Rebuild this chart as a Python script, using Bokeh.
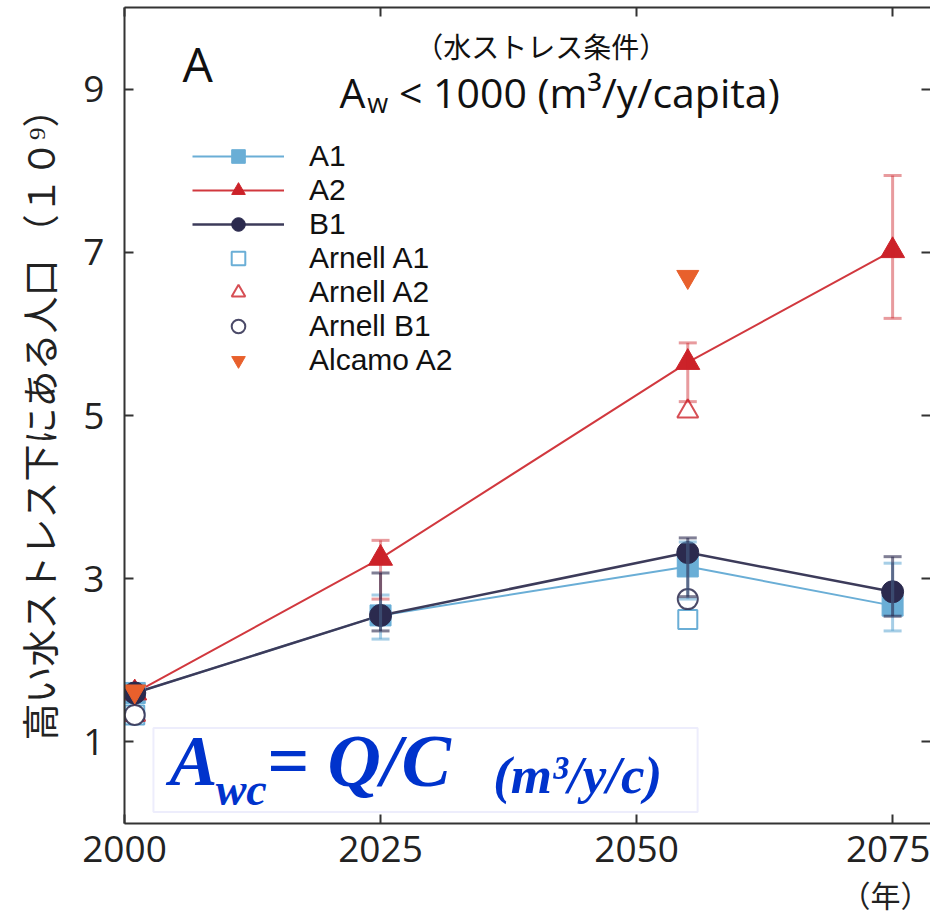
from bokeh.plotting import figure
from bokeh.models import (Range1d, LinearAxis, FixedTicker, Whisker, TeeHead, ColumnDataSource,
                          Legend, LegendItem, Label, BoxAnnotation, Title)
from bokeh.embed import file_html
from bokeh.resources import INLINE

# ---------------- data ----------------
years = [2001, 2025, 2055, 2075]
a1 = [1.6, 2.55, 3.15, 2.67]
a2 = [1.6, 3.25, 5.65, 7.02]
b1 = [1.6, 2.55, 3.32, 2.84]

err_years = [2025, 2055, 2075]
a1_lo = [2.26, 2.75, 2.36]
a1_hi = [2.80, 3.45, 3.19]
a2_lo = [2.75, 5.17, 6.19]
a2_hi = [3.47, 5.89, 7.94]
b1_lo = [2.36, 2.78, 2.54]
b1_hi = [3.07, 3.50, 3.27]

arnell_years = [2001, 2055]
arnell_a1 = [1.33, 2.50]
arnell_a2 = [1.33, 5.05]
arnell_b1 = [1.33, 2.75]

alcamo_years = [2001, 2055]
alcamo_a2 = [1.62, 6.70]

x_ticks = [2000, 2025, 2050, 2075]
y_ticks = [1, 3, 5, 7, 9]

C_A1 = "#6aaed6"
C_A2 = "#cc2229"
C_B1 = "#2b2a4e"
C_AL = "#e8602c"

JP = "Noto Sans CJK JP"
LAT = "Open Sans"

p = figure(width=930, height=922, output_backend="svg", toolbar_location=None,
           x_range=Range1d(2000, 2078.7), y_range=Range1d(0, 10),
           min_border_left=124, min_border_right=0, min_border_top=7, min_border_bottom=99,
           background_fill_color="white", border_fill_color="white")
p.outline_line_color = None
p.grid.visible = False

for ax in (p.xaxis[0], p.yaxis[0]):
    ax.major_tick_in = 9
    ax.major_tick_out = 0
    ax.minor_tick_line_color = None
    ax.axis_line_width = 2
    ax.axis_line_color = "#333333"
    ax.major_tick_line_width = 2
    ax.major_tick_line_color = "#333333"
    ax.major_label_text_font = LAT
    ax.major_label_text_font_size = "37px"
    ax.major_label_text_color = "#222222"

p.xaxis[0].ticker = FixedTicker(ticks=x_ticks)
p.yaxis[0].ticker = FixedTicker(ticks=y_ticks)
p.xaxis[0].major_label_standoff = 12
p.yaxis[0].major_label_standoff = 20
p.yaxis[0].axis_label = "高い水ストレス下にある人口 （１０⁹）"
p.yaxis[0].axis_label_text_font = JP
p.yaxis[0].axis_label_text_font_size = "37px"
p.yaxis[0].axis_label_text_font_style = "normal"
p.yaxis[0].axis_label_text_color = "#222222"
p.yaxis[0].axis_label_standoff = 14

top_ax = LinearAxis(ticker=FixedTicker(ticks=x_ticks), major_label_text_font_size="0px",
                    major_tick_in=9, major_tick_out=0, minor_tick_line_color=None,
                    axis_line_width=2, axis_line_color="#333333",
                    major_tick_line_width=2, major_tick_line_color="#333333")
p.add_layout(top_ax, "above")
right_ax = LinearAxis(ticker=FixedTicker(ticks=y_ticks), major_label_text_font_size="0px",
                      major_tick_in=9, major_tick_out=0, minor_tick_line_color=None,
                      axis_line_color=None,
                      major_tick_line_width=2, major_tick_line_color="#333333")
p.add_layout(right_ax, "right")

# ---------------- year unit (below the x axis) ----------------
p.add_layout(Title(text="（年）", align="right", text_font=JP, text_font_size="30px",
                   text_font_style="normal", text_color="#222222", standoff=10, offset=0),
             "below")

# ---------------- Arnell (open) ----------------
r_arn_a1 = p.scatter(arnell_years, arnell_a1, marker="square", size=19, fill_color="white",
                     line_color=C_A1, line_width=2)
r_arn_a2 = p.scatter(arnell_years, arnell_a2, marker="triangle", size=21, fill_color="white",
                     line_color=C_A2, line_width=2, line_alpha=0.8)
r_arn_b1 = p.scatter(arnell_years, arnell_b1, marker="circle", size=20, fill_color="white",
                     line_color=C_B1, line_width=2, line_alpha=0.85)

# ---------------- lines ----------------
l_a1 = p.line(years, a1, line_color=C_A1, line_width=2)
l_a2 = p.line(years, a2, line_color=C_A2, line_width=2, line_alpha=0.9)
l_b1 = p.line(years, b1, line_color="#3c3b5a", line_width=2.5)

# ---------------- error bars ----------------
def add_err(lo, hi, color, alpha):
    src = ColumnDataSource(dict(x=err_years, lo=lo, hi=hi))
    w = Whisker(base="x", lower="lo", upper="hi", source=src, line_color=color,
                line_width=3, line_alpha=alpha, level="glyph",
                upper_head=TeeHead(size=18, line_color=color, line_width=3, line_alpha=alpha),
                lower_head=TeeHead(size=18, line_color=color, line_width=3, line_alpha=alpha))
    p.add_layout(w)

add_err(a1_lo, a1_hi, C_A1, 0.6)
add_err(a2_lo, a2_hi, C_A2, 0.45)
add_err(b1_lo, b1_hi, C_B1, 0.6)

# ---------------- main markers ----------------
m_a1 = p.scatter(years, a1, marker="square", size=21, fill_color=C_A1, line_color=C_A1)
m_a2 = p.scatter(years, a2, marker="triangle", size=24, fill_color=C_A2, line_color=C_A2)
m_b1 = p.scatter(years, b1, marker="circle", size=22, fill_color=C_B1, line_color=C_B1)
r_alc = p.scatter(alcamo_years, alcamo_a2, marker="inverted_triangle", size=22,
                  fill_color=C_AL, line_color=C_AL)

# ---------------- legend ----------------
legend = Legend(items=[
    LegendItem(label="A1", renderers=[l_a1, m_a1]),
    LegendItem(label="A2", renderers=[l_a2, m_a2]),
    LegendItem(label="B1", renderers=[l_b1, m_b1]),
    LegendItem(label="Arnell A1", renderers=[r_arn_a1]),
    LegendItem(label="Arnell A2", renderers=[r_arn_a2]),
    LegendItem(label="Arnell B1", renderers=[r_arn_b1]),
    LegendItem(label="Alcamo A2", renderers=[r_alc]),
], location=(68, 446), padding=0, spacing=0, label_height=34, glyph_height=34,
    glyph_width=92, label_standoff=25, border_line_color=None, background_fill_alpha=0,
    label_text_font="Liberation Sans", label_text_font_size="30px", label_text_color="#111111",
    margin=0)
p.add_layout(legend, "center")

# ---------------- title texts ----------------
p.add_layout(Label(x=2005.66, y=9.31, text="A", text_font=LAT, text_font_size="48px",
                   text_color="#111111", text_baseline="alphabetic"))
p.add_layout(Label(x=2040.7, y=9.53, text="（水ストレス条件）", text_font=JP,
                   text_font_size="28px", text_color="#111111", text_align="center",
                   text_baseline="alphabetic"))
p.add_layout(Label(x=2021.0, y=8.96, text="A", text_font=LAT, text_font_size="41px",
                   text_color="#111111", text_baseline="alphabetic"))
p.add_layout(Label(x=2023.7, y=8.83, text="w", text_font=LAT, text_font_size="27px",
                   text_color="#111111", text_baseline="alphabetic"))
p.add_layout(Label(x=2026.8, y=8.96, text="< 1000 (m³/y/capita)", text_font=LAT,
                   text_font_size="41px", text_color="#111111", text_baseline="alphabetic"))

# ---------------- formula box ----------------
p.add_layout(BoxAnnotation(left=2002.83, right=2055.96, bottom=0.14, top=1.17,
                           fill_alpha=0, line_color="#c4c4f6", line_width=2))
F = "Liberation Serif"
BLUE = "#0033cc"
p.add_layout(Label(x=2004.4, y=0.76, text="A", text_font=F, text_font_size="72px",
                   text_font_style="bold italic", text_color=BLUE, text_baseline="alphabetic"))
p.add_layout(Label(x=2008.9, y=0.42, text="wc", text_font=F, text_font_size="46px",
                   text_font_style="bold italic", text_color=BLUE, text_baseline="alphabetic"))
p.add_layout(Label(x=2013.9, y=0.76, text="= Q/C", text_font=F, text_font_size="74px",
                   text_font_style="bold italic", text_color=BLUE, text_baseline="alphabetic"))
p.add_layout(Label(x=2036.0, y=0.6, text="(m³/y/c)", text_font=F, text_font_size="53px",
                   text_font_style="bold italic", text_color=BLUE, text_baseline="alphabetic"))

open("out.html", "w").write(file_html(p, INLINE))
